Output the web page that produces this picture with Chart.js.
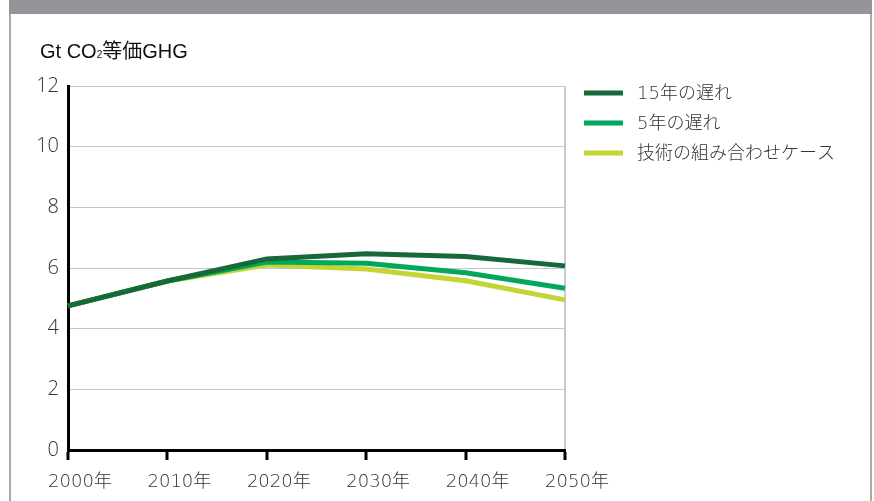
<!DOCTYPE html>
<html lang="ja">
<head>
<meta charset="utf-8">
<title>Gt CO2等価GHG</title>
<script src="https://cdn.jsdelivr.net/npm/chart.js@4/dist/chart.umd.min.js"></script>
<style>
  html, body { margin: 0; padding: 0; background: #ffffff; }
  #wrap { position: relative; width: 874px; height: 501px; }
  canvas { display: block; }
</style>
</head>
<body>
<div id="wrap"><canvas id="chart" width="874" height="501"></canvas></div>
<script>
// Emission pathways, Gt CO2-equivalent GHG
const years = ['2000年', '2010年', '2020年', '2030年', '2040年', '2050年'];
const delay15 = [4.75, 5.57, 6.30, 6.47, 6.38, 6.07];
const delay5 = [4.75, 5.57, 6.20, 6.16, 5.84, 5.33];
const techMix = [4.75, 5.57, 6.10, 5.97, 5.58, 4.95];
const seriesNames = ['15年の遅れ', '5年の遅れ', '技術の組み合わせケース'];
const yTicks = [0, 2, 4, 6, 8, 10, 12];

const colors = ['#17693a', '#00a85a', '#c3d435'];
const cjk = '"Noto Sans CJK JP", sans-serif';
const roundFont = '"DejaVu Sans", ' + cjk;
const titleFont = '"Liberation Sans", ' + cjk;

// Outer panel frame: grey header band with thin side borders
const framePlugin = {
  id: 'frame',
  beforeDraw(chart) {
    const ctx = chart.ctx;
    ctx.save();
    ctx.fillStyle = '#ffffff';
    ctx.fillRect(0, 0, chart.width, chart.height);
    ctx.fillStyle = '#939598';
    ctx.fillRect(9, 0, 863, 14);
    ctx.fillStyle = '#a7a9ac';
    ctx.fillRect(9, 14, 2, chart.height - 14);
    ctx.fillRect(870, 14, 2, chart.height - 14);
    // unit label
    ctx.fillStyle = '#111111';
    ctx.textBaseline = 'alphabetic';
    ctx.font = '20px ' + titleFont;
    let x = 40;
    const base = 58;
    ctx.fillText('Gt CO', x, base);
    x += ctx.measureText('Gt CO').width;
    ctx.font = '10px ' + titleFont;
    ctx.fillText('2', x, base);
    x += ctx.measureText('2').width;
    ctx.font = '20px ' + titleFont;
    ctx.fillText('等価GHG', x, base);
    ctx.restore();
  }
};

// Legend on the right, built from the datasets
const sideLegend = {
  id: 'sideLegend',
  afterDraw(chart) {
    const ctx = chart.ctx;
    ctx.save();
    ctx.font = '300 18px ' + roundFont;
    ctx.textBaseline = 'middle';
    chart.data.datasets.forEach((ds, i) => {
      const y = 93 + i * 30;
      ctx.strokeStyle = ds.borderColor;
      ctx.lineWidth = 5;
      ctx.beginPath();
      ctx.moveTo(584, y);
      ctx.lineTo(623, y);
      ctx.stroke();
      ctx.fillStyle = '#333333';
      ctx.fillText(ds.label, 637, y + 1);
    });
    ctx.restore();
  }
};

new Chart(document.getElementById('chart'), {
  type: 'line',
  data: {
    labels: years,
    datasets: [
      { label: seriesNames[0], data: delay15, borderColor: colors[0] },
      { label: seriesNames[1], data: delay5, borderColor: colors[1] },
      { label: seriesNames[2], data: techMix, borderColor: colors[2] }
    ].map(d => Object.assign(d, {
      borderWidth: 5, pointRadius: 0, tension: 0, fill: false,
      borderJoinStyle: 'miter', borderCapStyle: 'butt'
    }))
  },
  options: {
    responsive: false,
    animation: false,
    devicePixelRatio: 1,
    layout: { padding: { top: 86, right: 309, left: 0, bottom: 0 } },
    plugins: { legend: { display: false }, tooltip: { enabled: false } },
    scales: {
      x: {
        offset: false,
        grid: {
          color: (c) => (c.index === years.length - 1 ? '#c9cacc' : 'rgba(0,0,0,0)'),
          lineWidth: 2,
          drawOnChartArea: true,
          tickColor: '#000000',
          tickLength: 10,
          tickWidth: 3
        },
        border: { color: '#000000', width: 3 },
        ticks: {
          color: '#333333',
          font: { family: roundFont, size: 18, weight: '300' },
          padding: 12,
          labelOffset: 12,
          maxRotation: 0,
          autoSkip: false
        },
        afterFit(scale) { scale.height = 51; }
      },
      y: {
        min: 0,
        max: 12,
        afterBuildTicks(scale) { scale.ticks = yTicks.map(v => ({ value: v })); },
        grid: {
          color: '#c6c7ca',
          lineWidth: 1,
          drawTicks: false
        },
        border: { color: '#000000', width: 3 },
        ticks: {
          color: '#333333',
          font: { family: '"Open Sans", sans-serif', size: 20, weight: '300' },
          padding: 9
        },
        afterFit(scale) { scale.width = 68; }
      }
    }
  },
  plugins: [framePlugin, sideLegend]
});
</script>
</body>
</html>
